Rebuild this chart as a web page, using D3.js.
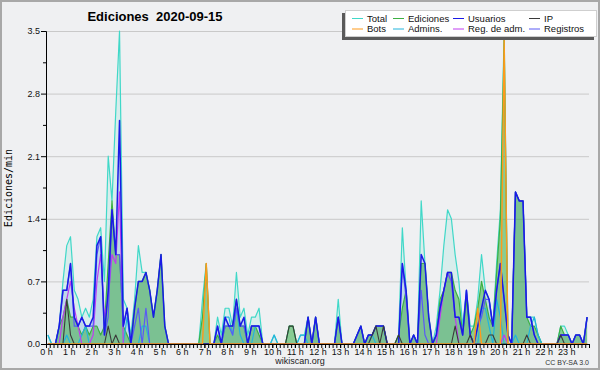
<!DOCTYPE html>
<html>
<head>
<meta charset="utf-8">
<script src="https://cdn.jsdelivr.net/npm/d3@7"></script>
<style>
body { margin: 0; background: #eff0f2; }
svg { display: block; font-family: "Liberation Sans", Arial, sans-serif; }
</style>
</head>
<body>
<svg width="600" height="370"></svg>
<script>
// 10-minute slots, values in edits per minute
const hours = d3.range(24).map(h => `${h} h`);
const yTicks = [0, 0.7, 1.4, 2.1, 2.8, 3.5];
const seriesNames = ['Total', 'Ediciones', 'Usuarios', 'IP', 'Bots', 'Admins.', 'Reg. de adm.', 'Registros'];

const total = [
  0.1,0,0,0.2,0.7,1.1, 1.2,0.6,0.5,0.3,0.4,0.3, 0.5,1.2,1.3,0.7,2.1,1.6, 2.6,3.5,0.5,0.4,0.1,0.5,
  1.1,0.8,0.8,0.6,0.3,0.6, 1.0,0.2,0,0,0,0, 0,0,0,0,0,0.5, 0.9,0,0,0.3,0.1,0.4,
  0.4,0.2,0.8,0.3,0.4,0.1, 0.3,0.3,0.4,0,0,0, 0.1,0,0,0,0.2,0.2, 0,0.1,0.1,0.3,0,0.3,
  0,0,0,0,0,0.5, 0,0,0,0,0.1,0.2, 0,0.1,0.1,0.2,0.2,0.2, 0,0,0,0.1,1.3,0.6,
  0,0.1,0,1.6,0.9,0.3, 0,0.2,0.6,1.1,1.5,1.4, 1.0,0.7,0.2,0.6,0.2,0.2, 0.5,1.0,0.6,0.5,0.2,0.9,
  1.5,3.5,0.1,0,1.7,1.6, 1.6,0.3,0.3,0.3,0.1,0, 0,0,0,0,0.2,0.2, 0.1,0,0.1,0.1,0,0.3
];
const ediciones = [
  0,0,0,0.2,0.3,0.5, 0.3,0.3,0.2,0.1,0.2,0.1, 0.2,0.2,0.1,0.2,0.9,1.6, 1.0,1.0,0.2,0.1,0,0.4,
  0.7,0.7,0.8,0.6,0.3,0.6, 1.0,0.2,0,0,0,0, 0,0,0,0,0,0.3, 0.9,0,0,0.1,0,0.2,
  0.2,0.2,0.5,0.2,0.2,0, 0.2,0.2,0.1,0,0,0, 0,0,0,0,0.2,0.2, 0,0,0,0.3,0,0.3,
  0,0,0,0,0,0.3, 0,0,0,0,0.1,0.2, 0,0.1,0.1,0.2,0.2,0.2, 0,0,0,0.1,0.4,0.6,
  0,0.1,0,0.9,0.9,0.3, 0,0.1,0.5,0.6,0.8,0.8, 0.6,0.5,0.1,0.5,0.1,0.2, 0.4,0.7,0.5,0.3,0.2,0.8,
  1.4,3.4,0,0,1.7,1.6, 1.6,0.3,0.2,0.2,0.1,0, 0,0,0,0,0.2,0.1, 0.1,0,0.1,0.1,0,0.3
];
const usuarios = [
  0,0,0,0.2,0.6,0.6, 0.9,0.3,0.2,0.3,0.2,0.2, 0.3,1.1,1.2,0.1,0.6,1.5, 1.0,2.5,0.2,0.4,0,0.4,
  0.7,0.7,0.8,0.6,0.3,0.6, 1.0,0.2,0,0,0,0, 0,0,0,0,0,0, 0,0,0,0.2,0,0.3,
  0.2,0.2,0.5,0.2,0.3,0, 0.2,0.2,0.2,0,0,0, 0,0,0,0,0,0, 0,0,0,0.3,0,0.3,
  0,0,0,0,0,0.3, 0,0,0,0,0.1,0.2, 0,0.1,0.1,0.2,0.2,0.2, 0,0,0,0,0.9,0.6,
  0,0.1,0,1.0,0.9,0.3, 0,0.1,0.4,0.6,0.8,0.8, 0.3,0.3,0.1,0.6,0.1,0, 0.2,0.4,0.6,0.5,0.2,0.6,
  0.9,0.5,0.1,0,1.7,1.6, 1.6,0.3,0.3,0.1,0,0, 0,0,0,0,0.1,0.1, 0.1,0,0.1,0.1,0,0.3
];
const ip = [
  0,0,0,0,0,0.5, 0.1,0,0,0,0,0, 0,0,0,0,0.2,0, 0.1,0,0,0,0,0,
  0,0,0,0,0,0, 0,0,0,0,0,0, 0,0,0,0,0,0, 0,0,0,0,0,0,
  0,0,0,0,0,0, 0,0,0,0,0,0, 0,0,0,0,0.2,0.2, 0,0,0,0,0,0,
  0,0,0,0,0,0, 0,0,0,0,0,0, 0,0,0.1,0.2,0,0.2, 0,0,0,0.1,0,0,
  0,0,0,0,0,0, 0,0,0,0,0,0, 0.2,0,0,0,0.1,0, 0,0,0,0.1,0.1,0,
  0,0,0,0,0,0, 0,0.1,0,0,0,0, 0,0,0,0,0.1,0, 0,0,0,0,0,0
];
const bots = [
  0,0,0,0,0,0, 0,0,0,0,0,0, 0,0,0,0,0,0, 0,0,0,0,0,0,
  0,0,0,0,0,0, 0,0,0,0,0,0, 0,0,0,0,0,0, 0.9,0,0,0,0,0,
  0,0,0,0,0,0, 0,0,0,0,0,0, 0,0,0,0,0,0, 0,0,0,0,0,0,
  0,0,0,0,0,0, 0,0,0,0,0,0, 0,0,0,0,0,0, 0,0,0,0,0,0,
  0,0,0,0,0,0, 0,0,0,0,0,0, 0,0,0,0,0,0, 0.4,0,0,0,0,0,
  0,3.4,0,0,0,0, 0,0,0,0,0,0, 0,0,0,0,0,0, 0,0,0,0,0,0
];
const admins = [
  0.1,0,0,0,0,0.1, 0,0,0,0.1,0.2,0, 0,0,0,0,0,0, 0,0,0,0.3,0,0,
  0,0.2,0.2,0,0,0, 0,0,0,0,0,0, 0,0,0,0,0,0, 0,0,0,0,0,0.3,
  0.3,0.1,0.4,0.1,0,0, 0,0.2,0.2,0,0,0, 0.1,0,0,0,0,0, 0,0.1,0.1,0,0,0,
  0,0,0,0,0,0, 0,0,0,0,0,0, 0,0,0.1,0,0,0, 0,0,0,0,0,0,
  0,0,0,0,0,0, 0,0,0,0,0,0, 0,0,0,0,0,0, 0,0.4,0.4,0.2,0,0.5,
  0.3,0,0,0,0.1,0, 0,0,0.2,0.3,0.1,0, 0,0,0,0,0,0, 0,0,0,0,0,0
];
const regAdm = [
  0,0,0,0,0.3,0.5, 0.7,0.4,0.2,0,0,0, 0.1,0.7,1.0,0.3,0.5,1.0, 0.9,1.7,0,0,0,0,
  0,0,0,0,0,0, 0,0,0,0,0,0, 0,0,0,0,0,0, 0,0,0,0,0,0,
  0,0,0,0,0,0, 0,0,0,0,0,0, 0,0,0,0,0,0, 0,0,0,0,0,0,
  0,0,0,0,0,0, 0,0,0,0,0,0, 0,0,0,0,0,0, 0,0,0,0,0,0,
  0,0,0,0,0,0, 0,0,0.3,0.6,0.8,0.7, 0.3,0,0,0,0,0, 0,0,0,0,0,0,
  0,0.1,0,0,0,0, 0,0,0,0,0,0, 0,0,0,0,0,0, 0,0,0,0,0,0
];
const registros = [
  0,0,0,0.2,0.6,0.6, 0.9,0.2,0.2,0.3,0.2,0.2, 0.2,1.0,1.2,0.1,0.3,1.5, 1.0,1.0,0.2,0.4,0,0.2,
  0.4,0,0.4,0,0,0, 0,0,0,0,0,0, 0,0,0,0,0,0, 0,0,0,0.2,0,0.2,
  0.2,0.1,0.4,0.2,0.2,0, 0.2,0.2,0.2,0,0,0, 0,0,0,0,0,0, 0,0,0,0.3,0,0.3,
  0,0,0,0,0,0.3, 0,0,0,0,0.1,0.2, 0,0.1,0.1,0.2,0.2,0.2, 0,0,0,0,0.9,0.5,
  0,0.1,0,0.6,0.1,0, 0,0.1,0.4,0.6,0.8,0.7, 0.3,0.3,0.1,0.6,0.1,0, 0.2,0.3,0.5,0.5,0.2,0.6,
  0.9,0.5,0.1,0,1.7,1.6, 1.6,0.3,0.3,0.1,0,0, 0,0,0,0,0.1,0.1, 0.1,0,0.1,0.1,0,0.3
];

const colors = {
  'Total': '#40d8c8',
  'Ediciones': '#3cb043',
  'Usuarios': '#1a1ae6',
  'IP': '#3a3a3a',
  'Bots': '#ff9a1a',
  'Admins.': '#22b4dc',
  'Reg. de adm.': '#c03cf0',
  'Registros': '#5a5af5'
};

const svg = d3.select('svg');
const x0 = 46, x1 = 589, yTop = 31, yBot = 344;

const x = d3.scaleLinear().domain([0, 144]).range([x0, x1]);
const y = d3.scaleLinear().domain([0, 3.5]).range([yBot, yTop]);
const px = i => x(i + 0.5);

// frame
svg.append('rect')
  .attr('x', 1).attr('y', 1).attr('width', 598).attr('height', 368)
  .attr('fill', '#eff0f2').attr('stroke', '#a8a8a8').attr('stroke-width', 2);

// grid
svg.append('g').selectAll('line')
  .data(yTicks.slice(1))
  .enter().append('line')
  .attr('x1', x0).attr('x2', x1)
  .attr('y1', d => y(d) + 0.5).attr('y2', d => y(d) + 0.5)
  .attr('stroke', '#c9c9c9');

const area = (arr) => d3.area().x((d, i) => px(i)).y0(yBot).y1(d => y(d))(arr);
const line = (arr) => d3.line().x((d, i) => px(i)).y(d => y(d))(arr);

// filled series
svg.append('path').attr('d', area(total)).attr('fill', 'rgba(64,216,200,0.13)');
svg.append('path').attr('d', area(usuarios)).attr('fill', 'rgba(80,130,220,0.18)');
svg.append('path').attr('d', area(ediciones)).attr('fill', 'rgba(40,165,40,0.45)');

// lines
const lines = [
  ['Total', total, 1.2],
  ['Ediciones', ediciones, 1.2],
  ['Admins.', admins, 1.2],
  ['Reg. de adm.', regAdm, 1.2],
  ['Registros', registros, 1.2],
  ['Usuarios', usuarios, 1.5],
  ['IP', ip, 1.1],
  ['Bots', bots, 1.4]
];
lines.forEach(([name, arr, w]) => {
  svg.append('path')
    .attr('d', line(arr))
    .attr('fill', 'none')
    .attr('stroke', colors[name])
    .attr('stroke-width', w)
    .attr('stroke-linejoin', 'round');
});

// y axis
svg.append('g')
  .attr('transform', `translate(${x0},0)`)
  .call(d3.axisLeft(y).tickValues(yTicks).tickFormat(d3.format('.1f')).tickSize(5).tickPadding(1));
svg.append('g')
  .attr('transform', `translate(${x0},0)`)
  .call(d3.axisLeft(y).tickValues(d3.range(0.35, 3.5, 0.7)).tickFormat('').tickSize(3))
  .select('.domain').remove();

// x axis
svg.append('g')
  .attr('transform', `translate(0,${yBot})`)
  .call(d3.axisBottom(x).tickValues(d3.range(0, 145)).tickFormat('').tickSize(4).tickSizeOuter(0));
svg.append('g')
  .attr('transform', `translate(0,${yBot})`)
  .call(d3.axisBottom(x).tickValues(d3.range(0, 144, 6)).tickFormat(d => hours[d / 6]).tickSize(4).tickPadding(1))
  .select('.domain').remove();

svg.selectAll('.tick text').attr('font-size', 9).attr('font-family', '"Liberation Sans", Arial, sans-serif').attr('fill', '#111');
svg.selectAll('.domain, .tick line').attr('stroke', '#000');

// texts
svg.append('text')
  .attr('x', 155).attr('y', 21)
  .attr('text-anchor', 'middle')
  .attr('font-size', 13).attr('font-weight', 'bold')
  .text('Ediciones  2020-09-15')
  .style('white-space', 'pre');

svg.append('text')
  .attr('transform', 'translate(12,188) rotate(-90)')
  .attr('text-anchor', 'middle')
  .attr('font-size', 10)
  .attr('font-family', '"DejaVu Sans Mono", monospace')
  .text('Ediciones/min');

svg.append('text')
  .attr('x', 300).attr('y', 364)
  .attr('text-anchor', 'middle')
  .attr('font-size', 9).attr('fill', '#222')
  .text('wikiscan.org');

svg.append('text')
  .attr('x', 589).attr('y', 365)
  .attr('text-anchor', 'end')
  .attr('font-size', 7).attr('fill', '#333')
  .text('CC BY-SA 3.0');

// legend
const lg = svg.append('g');
lg.append('rect').attr('x', 342).attr('y', 13).attr('width', 252).attr('height', 27).attr('fill', '#5a5a5a');
lg.append('rect').attr('x', 345.5).attr('y', 10.5).attr('width', 251).attr('height', 26)
  .attr('fill', '#fff').attr('stroke', '#cfcfcf');
const colX = [352, 393, 453, 529];
seriesNames.forEach((name, k) => {
  const cx = colX[k % 4];
  const cy = k < 4 ? 18.5 : 29;
  lg.append('line')
    .attr('x1', cx).attr('x2', cx + 11)
    .attr('y1', cy).attr('y2', cy)
    .attr('stroke', colors[name]).attr('stroke-width', 1);
  lg.append('text')
    .attr('x', cx + 15).attr('y', cy + 3.2)
    .attr('font-size', 9.5).attr('fill', '#111')
    .text(name);
});
</script>
</body>
</html>
